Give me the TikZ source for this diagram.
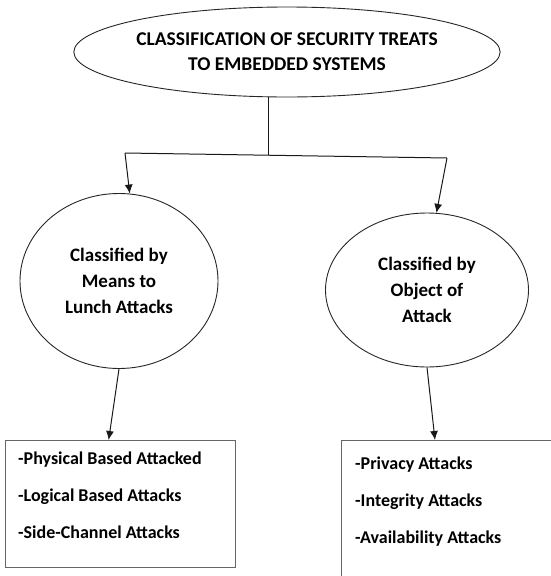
\documentclass[tikz,border=0pt]{standalone}
\usepackage{fontspec}
\setmainfont{Carlito}
\usetikzlibrary{shapes.geometric,arrows.meta}

\begin{document}
\begin{tikzpicture}[x=1pt,y=-1pt,
    oval/.style={draw=black!85, line width=.9pt, ellipse, inner sep=0pt, align=center, font=\bfseries\fontsize{19}{26}\selectfont},
    listbox/.style={draw=black!60, line width=1.3pt, rectangle, anchor=north west},
    listtext/.style={anchor=north west, align=left, inner sep=0pt, font=\bfseries\fontsize{18}{37}\selectfont},
    link/.style={draw=black!90, line width=1pt},
    arr/.style={link, -{Latex[length=9pt,width=8pt]}}]
    \useasboundingbox (0,0) rectangle (551,576);
    \clip (0,0) rectangle (551,576);

    % classification and its two branches
    \node[oval, minimum width=420, minimum height=90, font=\bfseries\fontsize{19.5}{25}\selectfont] (top) at (287,52) {CLASSIFICATION OF SECURITY TREATS\\TO EMBEDDED SYSTEMS};
    \node[oval, minimum width=198, minimum height=175] (means) at (119,281) {Classified by\\Means to\\Lunch Attacks};
    \node[oval, minimum width=203, minimum height=154] (object) at (427,290) {Classified by\\Object of\\Attack};

    % lists of attacks
    \node[listbox, minimum width=230, minimum height=127] (meanslist) at (5,440) {};
    \node[listtext] (meanstext) at (18,452) {-Physical Based Attacked\\-Logical Based Attacks\\-Side-Channel Attacks};
    \node[listbox, minimum width=300, minimum height=200] (objlist) at (341,440) {};
    \node[listtext] (objtext) at (355,457) {-Privacy Attacks\\-Integrity Attacks\\-Availability Attacks};

    % connectors
    \coordinate (jl) at (125,153);
    \coordinate (jr) at (447,158);
    \coordinate (mid) at (268,155);
    \draw[link] (jl) -- (jr);
    \draw[link] (mid |- top.south) -- (mid);
    \draw[arr] (jl) -- (means.83);
    \draw[arr] (jr) -- (object.83);
    \draw[arr] (means.south) -- ([xshift=-12pt]meanslist.north);
    \draw[arr] (object.south) -- ([xshift=94pt]objlist.north west);
\end{tikzpicture}
\end{document}
